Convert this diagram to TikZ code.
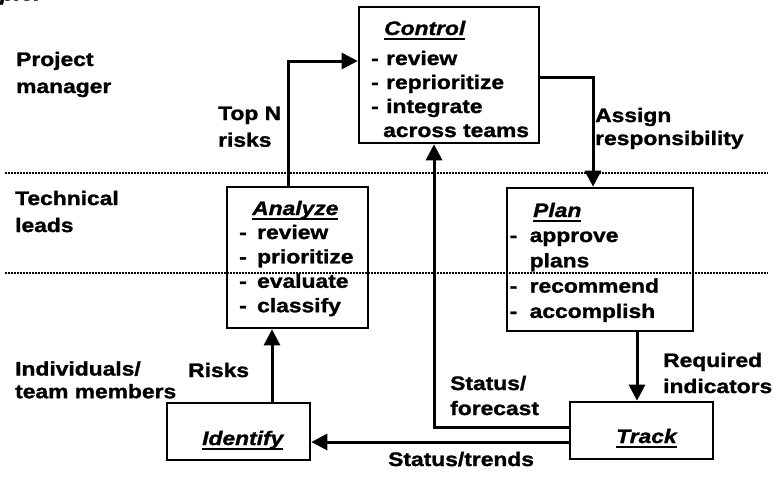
\documentclass[tikz,border=0pt]{standalone}
\usepackage{fontspec}
\setmainfont{Liberation Sans}[FakeStretch=1.17,
  BoldFeatures={FakeBold=1.3}, BoldItalicFeatures={FakeBold=1.3}]
\usetikzlibrary{arrows.meta}

% underlined title with a rule set a little below the baseline
\newsavebox\ttlbox
\newcommand\titleul[1]{\sbox\ttlbox{#1}\rlap{\rule[-4.8pt]{\wd\ttlbox}{1.7pt}}\usebox\ttlbox}
% left-aligned stack of lines with a fixed baseline distance; baseline = first line
\newcommand\stk[2]{\vtop{\baselineskip=#1\lineskiplimit=-100pt\lineskip=0pt\halign{##\hfil\cr#2\crcr}}}
% list dash in a box of fixed width
\newcommand\dsh[1]{\makebox[#1][l]{-}}

\tikzset{
  lbl/.style={font=\fontsize{19.5}{24}\selectfont\bfseries, inner sep=0pt, anchor=base west},
  ttl/.style={font=\fontsize{19.5}{24}\selectfont\bfseries\itshape, inner sep=0pt, anchor=base west},
  box/.style 2 args={draw, line width=2.6pt, minimum width=#1, minimum height=#2, inner sep=0pt},
  conn/.style={line width=3pt, -{Triangle[length=16pt,width=16pt]}},
  lane/.style={line width=1.6pt, dash pattern=on 1.6pt off 1.4pt},
}

\begin{document}
\begin{tikzpicture}[x=1pt, y=-1pt]
\fill[white] (0,0) rectangle (775,477);
\useasboundingbox (0,0) rectangle (775,477);
\clip (0,0) rectangle (775,477);

% heading, cut at the top edge
\node[ttl, anchor=base east] (ex) at (41,0.5) {Example:};

% lane separators
\coordinate (s1a) at (5,173);
\coordinate (s1b) at (768,173);
\coordinate (s2a) at (5,273);
\coordinate (s2b) at (768,273);
\draw[lane] (s1a) -- (s1b);
\draw[lane] (s2a) -- (s2b);

% lane names
\node[lbl] (pm) at (16,66) {\stk{27pt}{Project\cr manager}};
\node[lbl] (tl) at (15,205) {\stk{27pt}{Technical\cr leads}};
\node[lbl] (im) at (15,375.5) {\stk{22.7pt}{Individuals/\cr team members}};

% process boxes
\node[box={180pt}{136pt}] (ctl) at (449,75) {};
\node[box={141pt}{141pt}] (ana) at (297.5,257.5) {};
\node[box={186pt}{143pt}] (pln) at (600,259.5) {};
\node[box={143pt}{57pt}] (idf) at (238.5,431.5) {};
\node[box={143pt}{57pt}] (trk) at (641.5,430.5) {};

% box titles
\node[ttl] (ctlt) at (384,35) {\titleul{Control}};
\node[ttl] (anat) at (252,215) {\titleul{Analyze}};
\node[ttl] (plnt) at (533,217) {\titleul{Plan}};
\node[ttl] (idft) at (202,445) {\titleul{Identify}};
\node[ttl] (trkt) at (616,443) {\titleul{Track}};

% box contents
\node[lbl] (ctli) at (371,65) {\stk{24pt}{\dsh{15pt}review\cr \dsh{15pt}reprioritize\cr \dsh{15pt}integrate\cr \makebox[12pt]{}across teams}};
\node[lbl] (anai) at (239,239) {\stk{24.4pt}{\dsh{18pt}review\cr \dsh{18pt}prioritize\cr \dsh{18pt}evaluate\cr \dsh{18pt}classify}};
\node[lbl] (plni) at (509.5,242) {\stk{25.3pt}{\dsh{20pt}approve\cr \makebox[20pt]{}plans\cr \dsh{20pt}recommend\cr \dsh{20pt}accomplish}};

% flows
\draw[conn] (ana.north -| 288,0) |- (ctl.west |- 0,61);
\draw[conn] (ctl.east |- 0,77) -| (pln.north -| 593,0);
\draw[conn] (pln.south -| 637,0) -- (trk.north -| 637,0);
\draw[conn] (trk.west |- 0,427) -| (ctl.south -| 434,0);
\draw[conn] (trk.west |- 0,442) -- (idf.east |- 0,442);
\draw[conn] (idf.north -| 272,0) -- (ana.south -| 272,0);

% flow labels
\node[lbl] (topn) at (218,120) {\stk{26.7pt}{Top N\cr risks}};
\node[lbl] (asg) at (595,122) {\stk{23pt}{Assign\cr responsibility}};
\node[lbl] (rsk) at (188,377) {Risks};
\node[lbl] (req) at (663,367) {\stk{26pt}{Required\cr indicators}};
\node[lbl] (stf) at (450,390) {\stk{25pt}{Status/\cr forecast}};
\node[lbl] (stt) at (388,466) {Status/trends};
\end{tikzpicture}
\end{document}
